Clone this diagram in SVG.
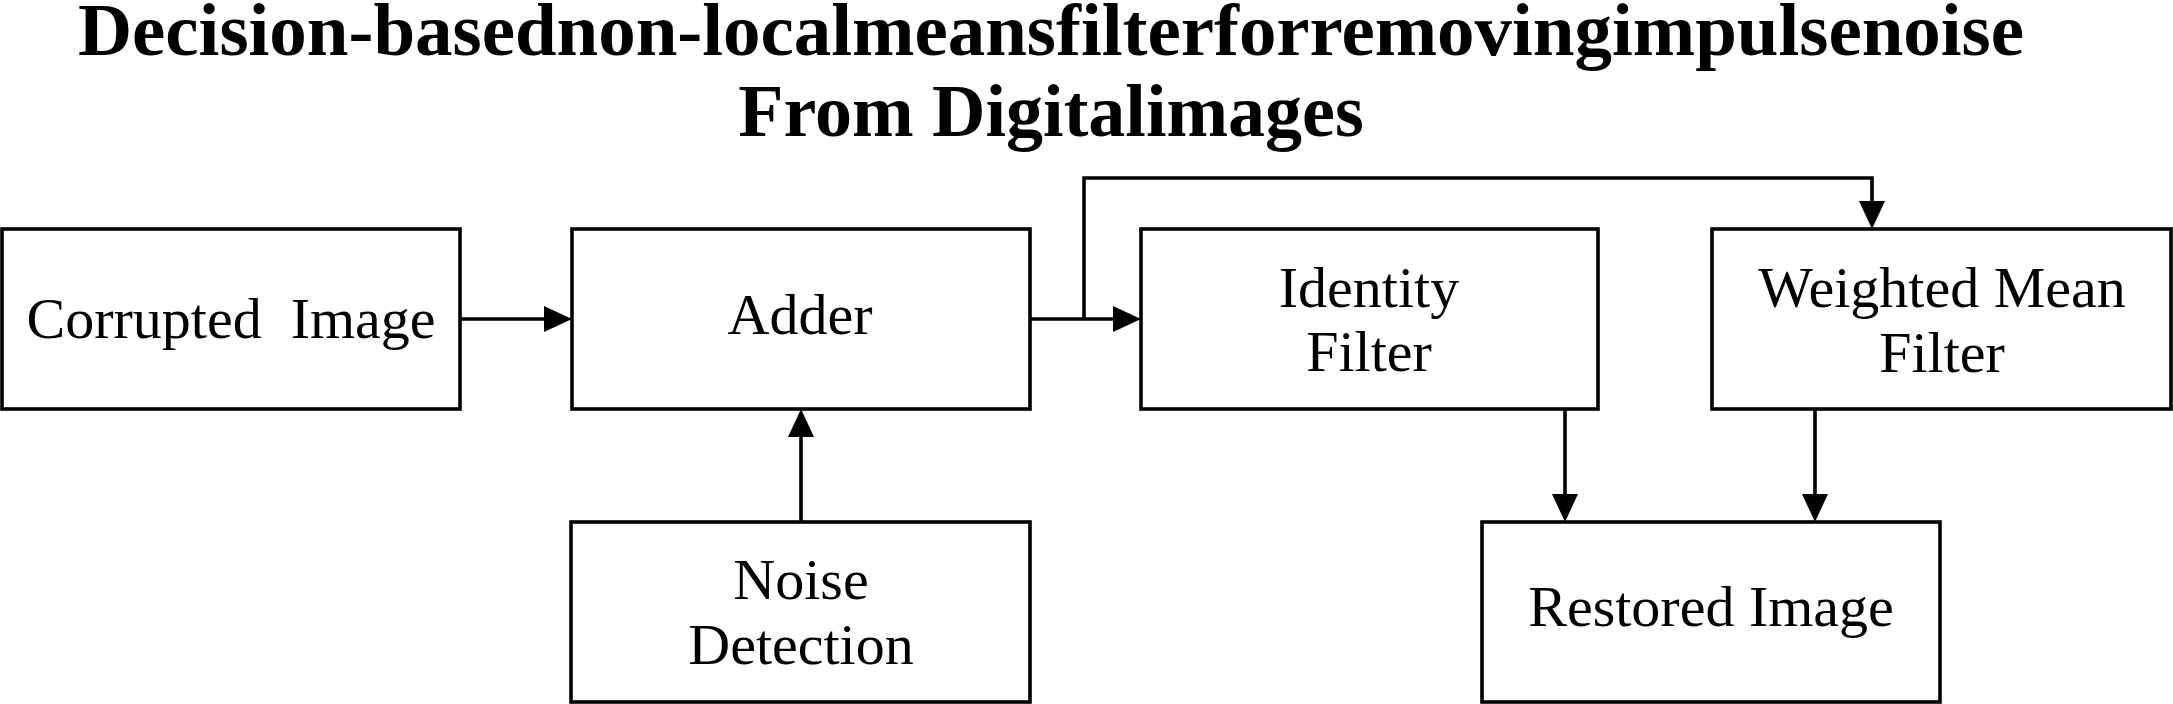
<svg xmlns="http://www.w3.org/2000/svg" width="2173" height="704" viewBox="0 0 2173 704">
<style>
.box{fill:#fff;stroke:#000;stroke-width:3.6}
.lbl{font-family:"Liberation Serif","Times New Roman",serif;font-size:58px;fill:#000;text-anchor:middle;white-space:pre}
.ttl{font-family:"Liberation Serif","Times New Roman",serif;font-size:74px;font-weight:bold;fill:#000;text-anchor:middle}
.con{fill:none;stroke:#000;stroke-width:3.6}
</style>
<defs>
<marker id="arr" markerUnits="userSpaceOnUse" markerWidth="28" markerHeight="26" refX="18" refY="13" orient="auto">
<path d="M0,0 L28,13 L0,26 Z" fill="#000"/>
</marker>
</defs>
<rect width="2173" height="704" fill="#fff"/>
<g id="title">
<text class="ttl" x="1051" y="55" textLength="1946" lengthAdjust="spacingAndGlyphs">Decision-basednon-localmeansfilterforremovingimpulsenoise</text>
<text class="ttl" x="1051" y="136">From Digitalimages</text>
</g>
<g id="connectors">
<path class="con" d="M460,319 H562" marker-end="url(#arr)"/>
<path class="con" d="M1030,319 H1131" marker-end="url(#arr)"/>
<path class="con" d="M1084,319 V178 H1872 V219" marker-end="url(#arr)"/>
<path class="con" d="M801,522 V419" marker-end="url(#arr)"/>
<path class="con" d="M1565,409 V512" marker-end="url(#arr)"/>
<path class="con" d="M1815,409 V512" marker-end="url(#arr)"/>
</g>
<g id="corrupted">
<rect class="box" x="2" y="229" width="458" height="180"/>
<text class="lbl" x="231" y="338" xml:space="preserve">Corrupted  Image</text>
</g>
<g id="adder">
<rect class="box" x="572" y="229" width="458" height="180"/>
<text class="lbl" x="800" y="334">Adder</text>
</g>
<g id="identity">
<rect class="box" x="1141" y="229" width="457" height="180"/>
<text class="lbl" x="1369" y="307">Identity</text>
<text class="lbl" x="1369" y="371">Filter</text>
</g>
<g id="weighted">
<rect class="box" x="1712" y="229" width="459" height="180"/>
<text class="lbl" x="1942" y="307">Weighted Mean</text>
<text class="lbl" x="1942" y="372">Filter</text>
</g>
<g id="noise">
<rect class="box" x="571" y="522" width="459" height="180"/>
<text class="lbl" x="801" y="599">Noise</text>
<text class="lbl" x="801" y="664">Detection</text>
</g>
<g id="restored">
<rect class="box" x="1482" y="522" width="458" height="180"/>
<text class="lbl" x="1711" y="626">Restored Image</text>
</g>
</svg>
